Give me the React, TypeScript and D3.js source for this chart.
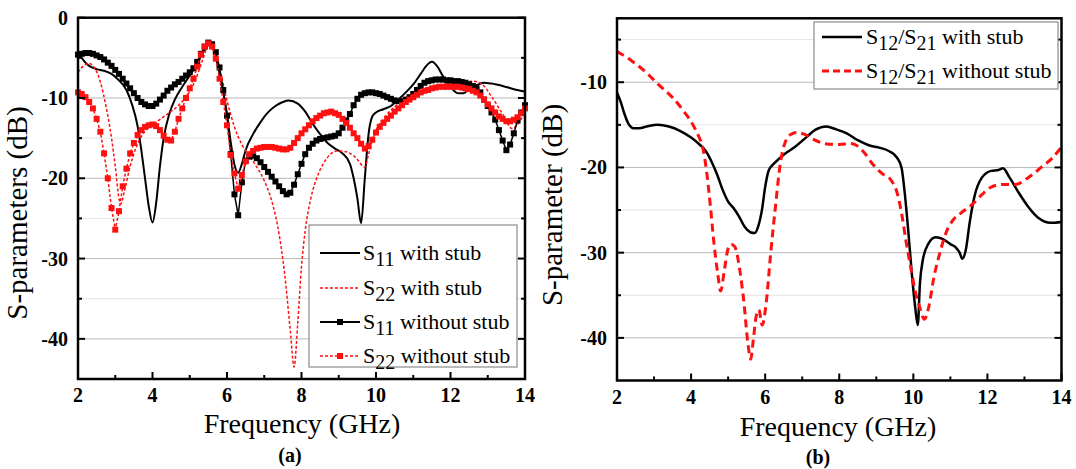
import React from 'react';
import * as d3 from 'd3';

const FONT = "'Liberation Serif','Times New Roman',Times,serif";
const RED = '#ff1010';

// ---------- Panel (a) data ----------
const freqStep01 = d3.range(0, 121).map((i) => +(2 + i * 0.1).toFixed(1));

const s11WithoutStub = [
  -4.6, -4.5, -4.4, -4.4, -4.5, -4.7, -4.9, -5.2, -5.6, -6.0,
  -6.5, -7.0, -7.6, -8.2, -8.8, -9.4, -10.0, -10.5, -10.8, -11.0,
  -11.0, -10.7, -10.2, -9.7, -9.1, -8.7, -8.3, -8.0, -7.6, -7.2,
  -6.8, -6.3, -5.5, -4.5, -3.6, -3.1, -3.3, -4.3, -6.2, -9.0,
  -12.2, -17.0, -22.0, -24.6, -20.5, -17.8, -17.3, -17.2, -17.5, -18.0,
  -18.6, -19.2, -19.8, -20.4, -21.0, -21.6, -22.0, -21.8, -20.8, -19.5,
  -18.2, -17.0, -16.2, -15.7, -15.3, -15.1, -15.0, -14.9, -14.8, -14.7,
  -14.4, -13.7, -12.8, -12.0, -10.9, -10.1, -9.6, -9.4, -9.3, -9.3,
  -9.4, -9.5, -9.7, -9.9, -10.1, -10.3, -10.4, -10.4, -10.2, -9.9,
  -9.5, -9.0, -8.5, -8.1, -7.9, -7.8, -7.7, -7.7, -7.7, -7.8,
  -7.8, -7.9, -7.9, -8.0, -8.1, -8.3, -8.5, -8.8, -9.3, -10.2,
  -11.0, -11.8, -12.7, -14.0, -15.3, -16.5, -15.8, -14.4, -12.8, -11.8,
  -10.9,
];

const s22WithoutStub = [
  -9.3, -9.5, -9.9, -10.5, -11.3, -12.6, -14.2, -16.9, -20.0, -23.7,
  -26.4, -24.1, -21.0, -18.8, -16.9, -15.6, -14.6, -14.0, -13.6, -13.4,
  -13.3, -13.5, -14.0, -14.7, -15.2, -15.3, -14.2, -12.6, -11.3, -10.0,
  -8.8, -7.6, -6.1, -4.6, -3.6, -3.2, -3.6, -5.1, -7.6, -10.5,
  -13.4, -17.1, -19.4, -21.3, -19.6, -17.9, -17.0, -16.6, -16.3, -16.2,
  -16.1, -16.1, -16.1, -16.2, -16.3, -16.4, -16.4, -16.2, -15.6, -15.0,
  -14.4, -13.9, -13.4, -12.9, -12.5, -12.2, -11.9, -11.8, -11.7, -11.9,
  -12.1, -12.6, -13.1, -13.7, -14.4, -15.0, -15.7, -16.3, -16.0, -15.2,
  -14.3, -13.6, -13.1, -12.6, -12.2, -11.7, -11.3, -10.9, -10.5, -10.2,
  -9.9, -9.6, -9.3, -9.1, -9.0, -8.8, -8.7, -8.6, -8.6, -8.6,
  -8.6, -8.6, -8.6, -8.7, -8.8, -8.9, -9.1, -9.3, -9.7, -10.2,
  -10.8, -11.3, -11.8, -12.3, -12.6, -12.9, -12.9, -12.7, -12.4, -11.9,
  -11.3,
];

const s11WithStub: [number, number][] = [
  [2.0, -4.4], [2.1, -5.0], [2.2, -5.6], [2.3, -6.0], [2.5, -6.4], [2.7, -6.6], [2.9, -7.0],
  [3.1, -7.8], [3.3, -9.0], [3.45, -10.8], [3.6, -13.5], [3.7, -16.5], [3.8, -20.0], [3.9, -23.5],
  [4.0, -25.5], [4.1, -23.0], [4.2, -18.5], [4.3, -15.0], [4.45, -12.0], [4.6, -10.2], [4.8, -8.6],
  [5.0, -7.2], [5.2, -5.7], [5.35, -4.4], [5.5, -3.1], [5.6, -3.5], [5.7, -5.0], [5.8, -7.0],
  [5.9, -9.3], [6.0, -12.0], [6.1, -15.5], [6.2, -18.3], [6.3, -19.3], [6.4, -18.2], [6.5, -16.5],
  [6.7, -14.5], [6.9, -13.0], [7.1, -11.8], [7.3, -11.0], [7.5, -10.5], [7.65, -10.3], [7.9, -10.7],
  [8.1, -11.7], [8.3, -13.2], [8.5, -14.5], [8.7, -15.6], [8.9, -16.3], [9.1, -16.9], [9.3, -18.2],
  [9.4, -20.0], [9.5, -22.5], [9.6, -25.6], [9.7, -20.0], [9.8, -14.5], [9.9, -12.3], [10.0, -11.8],
  [10.2, -11.4], [10.4, -11.0], [10.6, -10.2], [10.8, -9.3], [11.0, -8.3], [11.2, -7.0], [11.35, -6.0],
  [11.5, -5.5], [11.65, -6.1], [11.8, -7.3], [12.0, -8.6], [12.2, -9.4], [12.35, -9.4], [12.5, -8.9],
  [12.7, -8.4], [12.9, -8.1], [13.1, -8.2], [13.4, -8.5], [13.7, -8.9], [14.0, -9.2],
];

const s22WithStub: [number, number][] = [
  [2.0, -6.8], [2.15, -6.0], [2.3, -5.7], [2.45, -6.3], [2.6, -8.0], [2.75, -11.0], [2.9, -15.0],
  [3.0, -18.5], [3.1, -22.5], [3.15, -23.2], [3.25, -21.5], [3.4, -18.5], [3.55, -16.3], [3.7, -14.8],
  [3.9, -13.7], [4.1, -13.0], [4.4, -12.0], [4.7, -10.9], [5.0, -9.2], [5.2, -7.2], [5.35, -5.2],
  [5.5, -3.5], [5.6, -3.6], [5.7, -4.8], [5.85, -7.3], [6.0, -10.3], [6.2, -13.6], [6.4, -15.8],
  [6.6, -17.2], [6.8, -18.6], [7.0, -20.3], [7.2, -22.8], [7.4, -27.0], [7.55, -32.0], [7.7, -39.0],
  [7.8, -43.5], [7.9, -38.0], [8.0, -31.0], [8.1, -26.5], [8.25, -22.5], [8.45, -19.5], [8.7, -17.4],
  [8.95, -16.6], [9.2, -16.7], [9.45, -17.4], [9.7, -18.6], [9.8, -17.0], [9.95, -14.6], [10.2, -12.6],
  [10.5, -11.1], [10.9, -9.8], [11.4, -8.8], [11.9, -8.3], [12.3, -8.1], [12.6, -7.9], [12.85, -8.3],
  [13.1, -9.8], [13.4, -12.0], [13.65, -13.8], [13.85, -13.0], [14.0, -11.7],
];

// ---------- Panel (b) data ----------
const s21WithStub: [number, number][] = [
  [2.0, -11.2], [2.1, -12.3], [2.2, -13.7], [2.3, -14.8], [2.45, -15.4], [2.6, -15.4], [2.8, -15.2],
  [3.1, -15.0], [3.4, -15.2], [3.7, -15.7], [4.0, -16.5], [4.2, -17.2], [4.4, -18.1], [4.55, -19.3],
  [4.7, -20.8], [4.85, -22.6], [5.0, -24.0], [5.15, -24.8], [5.3, -25.8], [5.45, -27.0], [5.6, -27.6],
  [5.72, -27.7], [5.82, -26.8], [5.92, -24.8], [6.0, -22.3], [6.1, -20.3], [6.25, -19.5], [6.5, -18.5],
  [6.8, -17.6], [7.1, -16.5], [7.35, -15.6], [7.65, -15.2], [7.9, -15.5], [8.2, -16.0], [8.5, -16.8],
  [8.8, -17.4], [9.1, -17.7], [9.35, -18.1], [9.55, -18.8], [9.68, -20.0], [9.78, -23.5], [9.87, -27.8],
  [9.96, -32.5], [10.05, -36.4], [10.12, -38.5], [10.18, -33.5], [10.25, -31.0], [10.4, -29.0],
  [10.6, -28.2], [10.8, -28.4], [11.0, -29.0], [11.15, -29.4], [11.25, -30.0], [11.32, -30.7],
  [11.42, -29.6], [11.52, -26.5], [11.65, -23.4], [11.85, -21.2], [12.1, -20.4], [12.3, -20.3],
  [12.42, -20.1], [12.6, -21.2], [12.85, -23.0], [13.1, -24.6], [13.4, -26.0], [13.7, -26.5], [14.0, -26.4],
];

const s21WithoutStub: [number, number][] = [
  [2.0, -6.4], [2.4, -7.5], [2.8, -8.9], [3.1, -10.2], [3.5, -11.8], [3.8, -13.4], [4.05, -15.0],
  [4.2, -16.3], [4.32, -17.8], [4.42, -20.5], [4.52, -24.5], [4.62, -29.0], [4.72, -32.5], [4.8, -34.5],
  [4.9, -32.0], [5.0, -29.5], [5.08, -29.0], [5.18, -29.3], [5.3, -31.6], [5.43, -36.0], [5.53, -40.5],
  [5.61, -42.5], [5.68, -40.2], [5.76, -37.4], [5.83, -36.7], [5.92, -38.5], [6.03, -35.8], [6.15, -30.0],
  [6.28, -24.5], [6.4, -19.8], [6.52, -17.3], [6.7, -16.1], [6.85, -15.9], [7.05, -16.1], [7.3, -16.7],
  [7.6, -17.2], [8.0, -17.3], [8.3, -17.2], [8.5, -17.5], [8.7, -18.4], [8.9, -19.6], [9.15, -20.7],
  [9.4, -21.5], [9.55, -22.8], [9.7, -25.8], [9.8, -28.6], [9.92, -31.5], [10.05, -34.5], [10.18, -36.5],
  [10.3, -37.8], [10.42, -36.3], [10.55, -33.0], [10.7, -30.3], [10.87, -27.8], [11.05, -26.3],
  [11.3, -25.3], [11.6, -24.3], [11.85, -23.2], [12.1, -22.3], [12.4, -22.0], [12.75, -22.0],
  [13.1, -21.2], [13.45, -20.0], [13.75, -18.9], [14.0, -17.6],
];

const xMajorTicks = [2, 4, 6, 8, 10, 12, 14];
const xMinorTicks = [3, 5, 7, 9, 11, 13];
const yMajorTicksA = [0, -10, -20, -30, -40];
const yMajorTicksB = [-10, -20, -30, -40];
const yMinorTicks = [-5, -15, -25, -35];

type Sc = d3.ScaleLinear<number, number>;

function Grid({ xs, ys, yMajor }: { xs: Sc; ys: Sc; yMajor: number[] }) {
  const [x0, x1] = xs.range();
  const yt = ys.range()[1];
  return (
    <g>
      {yMinorTicks.map((v) => (
        <line key={'gm' + v} x1={x0} x2={x1} y1={ys(v)} y2={ys(v)} stroke="#e4e4e4" strokeWidth={1} />
      ))}
      {yMajor.filter((v) => Math.abs(ys(v) - yt) > 2).map((v) => (
        <line key={'gM' + v} x1={x0} x2={x1} y1={ys(v)} y2={ys(v)} stroke="#b8b8b8" strokeWidth={1} />
      ))}
    </g>
  );
}

function Axes({ xs, ys, yMajor }: { xs: Sc; ys: Sc; yMajor: number[] }) {
  const [x0, x1] = xs.range();
  const [yb, yt] = ys.range();
  return (
    <g fontFamily={FONT}>
      {xMajorTicks.map((v) => (
        <line key={'xt' + v} x1={xs(v)} x2={xs(v)} y1={yb} y2={yb - 7} stroke="#000" strokeWidth={2} />
      ))}
      {xMinorTicks.map((v) => (
        <line key={'xm' + v} x1={xs(v)} x2={xs(v)} y1={yb} y2={yb - 4} stroke="#000" strokeWidth={2} />
      ))}
      {yMajor.map((v) => (
        <g key={'yt' + v}>
          <line x1={x0} x2={x0 + 7} y1={ys(v)} y2={ys(v)} stroke="#000" strokeWidth={2} />
          <line x1={x1} x2={x1 - 7} y1={ys(v)} y2={ys(v)} stroke="#000" strokeWidth={2} />
        </g>
      ))}
      {yMinorTicks.map((v) => (
        <g key={'ym' + v}>
          <line x1={x0} x2={x0 + 4} y1={ys(v)} y2={ys(v)} stroke="#000" strokeWidth={2} />
          <line x1={x1} x2={x1 - 4} y1={ys(v)} y2={ys(v)} stroke="#000" strokeWidth={2} />
        </g>
      ))}
      <rect x={x0} y={yt} width={x1 - x0} height={yb - yt} fill="none" stroke="#000" strokeWidth={2.5} />
      {xMajorTicks.map((v) => (
        <text key={'xl' + v} x={xs(v)} y={yb + 23} textAnchor="middle" fontSize={20} fontWeight="bold">
          {v}
        </text>
      ))}
      {yMajor.map((v) => (
        <text key={'yl' + v} x={x0 - 10} y={ys(v)} dy="0.35em" textAnchor="end" fontSize={20} fontWeight="bold">
          {v}
        </text>
      ))}
    </g>
  );
}

function LegendText({ x, y, parts }: { x: number; y: number; parts: { t: string; sub?: boolean }[] }) {
  return (
    <text x={x} y={y} fontFamily={FONT} fontSize={22}>
      {parts.map((p, i) => {
        const prevSub = i > 0 && parts[i - 1].sub;
        let dy = 0;
        if (p.sub && !prevSub) dy = 6;
        if (!p.sub && prevSub) dy = -6;
        return (
          <tspan key={i} dy={dy} fontSize={p.sub ? 20 : 22}>
            {p.t}
          </tspan>
        );
      })}
    </text>
  );
}

export default function App() {
  const xA = d3.scaleLinear().domain([2, 14]).range([78, 525]);
  const yA = d3.scaleLinear().domain([-45, 0]).range([379, 17.7]);
  const xB = d3.scaleLinear().domain([2, 14]).range([617, 1061.5]);
  const yB = d3.scaleLinear().domain([-45, -2.5]).range([380.5, 18.3]);

  const lineA = d3.line<[number, number]>().x((d) => xA(d[0])).y((d) => yA(d[1])).curve(d3.curveMonotoneX);
  const lineALin = d3.line<[number, number]>().x((d) => xA(d[0])).y((d) => yA(d[1]));
  const lineB = d3.line<[number, number]>().x((d) => xB(d[0])).y((d) => yB(d[1])).curve(d3.curveMonotoneX);

  const s11wo: [number, number][] = freqStep01.map((f, i) => [f, s11WithoutStub[i]]);
  const s22wo: [number, number][] = freqStep01.map((f, i) => [f, s22WithoutStub[i]]);

  const M = 6;

  return (
    <svg width={1076} height={469} style={{ position: 'absolute', left: 0, top: 0, background: '#fff' }}>
      <rect x={0} y={0} width={1076} height={469} fill="#fff" />
      {/* Panel (a) */}
      <Grid xs={xA} ys={yA} yMajor={yMajorTicksA} />
      <path d={lineA(s11WithStub) || ''} fill="none" stroke="#000" strokeWidth={2} />
      <path d={lineA(s22WithStub) || ''} fill="none" stroke={RED} strokeWidth={1.5} strokeDasharray="3,2" />
      <path d={lineALin(s11wo) || ''} fill="none" stroke="#000" strokeWidth={1.5} />
      {s11wo.map((d, i) => (
        <rect key={'m1' + i} x={xA(d[0]) - M / 2} y={yA(d[1]) - M / 2} width={M} height={M} fill="#000" />
      ))}
      <path d={lineALin(s22wo) || ''} fill="none" stroke={RED} strokeWidth={1.5} strokeDasharray="3,2" />
      {s22wo.map((d, i) => (
        <rect key={'m2' + i} x={xA(d[0]) - M / 2} y={yA(d[1]) - M / 2} width={M} height={M} fill={RED} />
      ))}
      <Axes xs={xA} ys={yA} yMajor={yMajorTicksA} />
      {/* legend a */}
      <g>
        <rect x={309} y={225} width={208} height={142} fill="#fff" stroke="#8a8a8a" strokeWidth={1.2} />
        <line x1={320} x2={360} y1={253} y2={253} stroke="#000" strokeWidth={2} />
        <LegendText x={363} y={260} parts={[{ t: 'S' }, { t: '11', sub: true }, { t: ' with stub' }]} />
        <line x1={320} x2={360} y1={288} y2={288} stroke={RED} strokeWidth={1.5} strokeDasharray="3,2" />
        <LegendText x={363} y={295} parts={[{ t: 'S' }, { t: '22', sub: true }, { t: ' with stub' }]} />
        <line x1={320} x2={360} y1={322} y2={322} stroke="#000" strokeWidth={2} />
        <rect x={340 - 3} y={322 - 3} width={6} height={6} fill="#000" />
        <LegendText x={363} y={329} parts={[{ t: 'S' }, { t: '11', sub: true }, { t: ' without stub' }]} />
        <line x1={320} x2={360} y1={356} y2={356} stroke={RED} strokeWidth={1.5} strokeDasharray="3,2" />
        <rect x={340 - 3} y={356 - 3} width={6} height={6} fill={RED} />
        <LegendText x={363} y={363} parts={[{ t: 'S' }, { t: '22', sub: true }, { t: ' without stub' }]} />
      </g>
      <text x={302} y={433} textAnchor="middle" fontFamily={FONT} fontSize={28}>
        Frequency (GHz)
      </text>
      <text x={290} y={462} textAnchor="middle" fontFamily={FONT} fontSize={20} fontWeight="bold">
        (a)
      </text>
      <text transform="translate(27,213) rotate(-90)" textAnchor="middle" fontFamily={FONT} fontSize={29}>
        S-parameters (dB)
      </text>

      {/* Panel (b) */}
      <Grid xs={xB} ys={yB} yMajor={yMajorTicksB} />
      <path d={lineB(s21WithStub) || ''} fill="none" stroke="#000" strokeWidth={2.5} />
      <path d={lineB(s21WithoutStub) || ''} fill="none" stroke={RED} strokeWidth={3} strokeDasharray="8,5" />
      <Axes xs={xB} ys={yB} yMajor={yMajorTicksB} />
      <g>
        <rect x={814} y={22} width={244} height={67} fill="#fff" stroke="#8a8a8a" strokeWidth={1.2} />
        <line x1={822} x2={862} y1={37} y2={37} stroke="#000" strokeWidth={2.5} />
        <LegendText
          x={866}
          y={44}
          parts={[{ t: 'S' }, { t: '12', sub: true }, { t: '/S' }, { t: '21', sub: true }, { t: ' with stub' }]}
        />
        <line x1={822} x2={862} y1={71} y2={71} stroke={RED} strokeWidth={3} strokeDasharray="7,4" />
        <LegendText
          x={866}
          y={78}
          parts={[{ t: 'S' }, { t: '12', sub: true }, { t: '/S' }, { t: '21', sub: true }, { t: ' without stub' }]}
        />
      </g>
      <text x={838} y={436} textAnchor="middle" fontFamily={FONT} fontSize={28}>
        Frequency (GHz)
      </text>
      <text x={818} y={464} textAnchor="middle" fontFamily={FONT} fontSize={20} fontWeight="bold">
        (b)
      </text>
      <text transform="translate(562,205) rotate(-90)" textAnchor="middle" fontFamily={FONT} fontSize={29}>
        S-parameter (dB)
      </text>
    </svg>
  );
}
